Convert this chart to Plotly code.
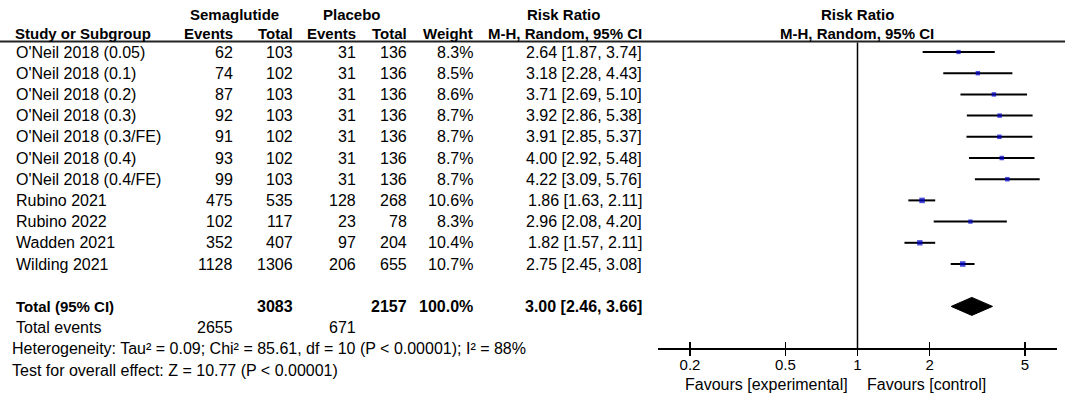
import plotly.graph_objects as go

# ---------------- data ----------------
studies = ["O'Neil 2018 (0.05)", "O'Neil 2018 (0.1)", "O'Neil 2018 (0.2)", "O'Neil 2018 (0.3)",
           "O'Neil 2018 (0.3/FE)", "O'Neil 2018 (0.4)", "O'Neil 2018 (0.4/FE)", "Rubino 2021",
           "Rubino 2022", "Wadden 2021", "Wilding 2021"]
sema_events = [62, 74, 87, 92, 91, 93, 99, 475, 102, 352, 1128]
sema_total = [103, 102, 103, 103, 102, 102, 103, 535, 117, 407, 1306]
plac_events = [31, 31, 31, 31, 31, 31, 31, 128, 23, 97, 206]
plac_total = [136, 136, 136, 136, 136, 136, 136, 268, 78, 204, 655]
weights = [8.3, 8.5, 8.6, 8.7, 8.7, 8.7, 8.7, 10.6, 8.3, 10.4, 10.7]
rr = [2.64, 3.18, 3.71, 3.92, 3.91, 4.00, 4.22, 1.86, 2.96, 1.82, 2.75]
ci_lo = [1.87, 2.28, 2.69, 2.86, 2.85, 2.92, 3.09, 1.63, 2.08, 1.57, 2.45]
ci_hi = [3.74, 4.43, 5.10, 5.38, 5.37, 5.48, 5.76, 2.11, 4.20, 2.11, 3.08]

total_sema = 3083
total_plac = 2157
total_weight = "100.0%"
total_rr, total_lo, total_hi = 3.00, 2.46, 3.66
events_sema = 2655
events_plac = 671
heterogeneity = "Heterogeneity: Tau² = 0.09; Chi² = 85.61, df = 10 (P < 0.00001); I² = 88%"
overall = "Test for overall effect: Z = 10.77 (P < 0.00001)"

tick_vals = [0.2, 0.5, 1, 2, 5]
tick_text = ["0.2", "0.5", "1", "2", "5"]
fav_left = "Favours [experimental]"
fav_right = "Favours [control]"

# ---------------- layout helpers ----------------
W, H = 1072, 394
ROW0, ROWH = 52.0, 21.2      # pixel centre of first row, row spacing
def px_to_row(p):
    return (p - ROW0) / ROWH
def px(x):
    return x / W

FONT = "Liberation Sans, Arial, sans-serif"
FS = 16
FSB = 15
n = len(studies)
total_row = n + 1
events_row = n + 2
het_row = n + 3
test_row = n + 4

annotations = []
def txt(x, y, s, anchor="left", bold=False, size=None):
    if size is None:
        size = FSB if bold else FS
    annotations.append(dict(
        x=px(x), y=y, xref="paper", yref="y", text=("<b>%s</b>" % s) if bold else s,
        showarrow=False, xanchor=anchor, yanchor="middle",
        font=dict(family=FONT, size=size, color="black")))

# column right edges (pixels)
C_STUDY = 14
C_SE, C_ST, C_PE, C_PT, C_W, C_RR = 235, 295, 358, 409, 475, 644
FOREST_CX = 857

# headers
h1 = px_to_row(14)
h2 = px_to_row(33)
txt(234, h1, "Semaglutide", "center", True)
txt(352, h1, "Placebo", "center", True)
txt(563, h1, "Risk Ratio", "center", True)
txt(FOREST_CX, h1, "Risk Ratio", "center", True)
txt(C_STUDY - 1, h2, "Study or Subgroup", "left", True)
txt(C_SE, h2, "Events", "right", True)
txt(C_ST, h2, "Total", "right", True)
txt(C_PE, h2, "Events", "right", True)
txt(C_PT, h2, "Total", "right", True)
txt(C_W, h2, "Weight", "right", True)
txt(C_RR, h2, "M-H, Random, 95% CI", "right", True)
txt(FOREST_CX, h2, "M-H, Random, 95% CI", "center", True)

for i in range(n):
    txt(C_STUDY, i, studies[i])
    txt(C_SE, i, str(sema_events[i]), "right")
    txt(C_ST, i, str(sema_total[i]), "right")
    txt(C_PE, i, str(plac_events[i]), "right")
    txt(C_PT, i, str(plac_total[i]), "right")
    txt(C_W, i, "%.1f%%" % weights[i], "right")
    txt(C_RR, i, "%.2f [%.2f, %.2f]" % (rr[i], ci_lo[i], ci_hi[i]), "right")

txt(C_STUDY, total_row, "Total (95% CI)", "left", True, 15)
txt(C_ST, total_row, str(total_sema), "right", True, 16)
txt(C_PT, total_row, str(total_plac), "right", True, 16)
txt(C_W, total_row, total_weight, "right", True, 16)
txt(C_RR, total_row, "%.2f [%.2f, %.2f]" % (total_rr, total_lo, total_hi), "right", True, 16)
txt(C_STUDY, events_row, "Total events")
txt(C_SE, events_row, str(events_sema), "right")
txt(C_PE, events_row, str(events_plac), "right")
txt(C_STUDY - 4, het_row, heterogeneity)
txt(C_STUDY - 4, test_row, overall)

fav_y = px_to_row(384)
txt(850, fav_y, fav_left, "right")
txt(865, fav_y, fav_right, "left")

fig = go.Figure()

# study estimates
fig.add_trace(go.Scatter(
    x=rr, y=list(range(n)), mode="markers",
    marker=dict(symbol="square", color="#0000CC", size=[w * 0.52 for w in weights], line=dict(width=0)),
    error_x=dict(type="data", symmetric=False,
                 array=[h - r for h, r in zip(ci_hi, rr)],
                 arrayminus=[r - l for r, l in zip(rr, ci_lo)],
                 thickness=2, width=0, color="black"),
    showlegend=False, hoverinfo="skip"))

# pooled diamond
dh = 9 / ROWH
fig.add_trace(go.Scatter(
    x=[total_lo, total_rr, total_hi, total_rr, total_lo],
    y=[total_row, total_row - dh, total_row, total_row + dh, total_row],
    mode="lines", fill="toself", fillcolor="black", line=dict(color="black", width=1),
    showlegend=False, hoverinfo="skip"))

axis_y_px = 348
axis_pos = 1 - axis_y_px / H
x_left_px, x_right_px, one_px = 658, 1057, 857.5
dec_px = 239.6
xr = [(x_left_px - one_px) / dec_px, (x_right_px - one_px) / dec_px]
xdom = [px(x_left_px), px(x_right_px)]

shapes = [
    # header underline
    dict(type="line", xref="paper", yref="y", x0=0, x1=px(1065), y0=px_to_row(41.5), y1=px_to_row(41.5),
         line=dict(color="#222", width=2)),
    # line of no effect
    dict(type="line", xref="x", yref="y", x0=1, x1=1, y0=px_to_row(42.5), y1=px_to_row(axis_y_px),
         line=dict(color="black", width=1.5)),
]

fig.update_layout(
    width=W, height=H, margin=dict(l=0, r=0, t=0, b=0),
    paper_bgcolor="white", plot_bgcolor="white",
    xaxis=dict(type="log", range=xr, domain=xdom,
               anchor="free", position=axis_pos, showline=True, linecolor="black", linewidth=1.5,
               tickvals=tick_vals, ticktext=tick_text, ticks="outside", ticklen=6, tickwidth=1.5,
               tickcolor="black", showgrid=False, zeroline=False, ticklabelstandoff=-4,
               tickfont=dict(family=FONT, size=15, color="black")),
    xaxis2=dict(type="log", range=xr, domain=xdom, overlaying="x",
                anchor="free", position=axis_pos, showline=False,
                tickvals=tick_vals, ticks="inside", ticklen=6, tickwidth=1.5, tickcolor="black",
                showticklabels=False, showgrid=False, zeroline=False),
    yaxis=dict(range=[px_to_row(H), px_to_row(0)], domain=[0, 1], visible=False,
               showgrid=False, zeroline=False),
    annotations=annotations, shapes=shapes,
)
# invisible trace to activate xaxis2
fig.add_trace(go.Scatter(x=[1], y=[px_to_row(axis_y_px)], xaxis="x2", mode="markers",
                         marker=dict(size=0, opacity=0), showlegend=False, hoverinfo="skip"))

fig.write_html("out.html", config={"displayModeBar": False, "staticPlot": True},
               post_script="document.body.style.margin='0';document.body.style.overflow='hidden';")
